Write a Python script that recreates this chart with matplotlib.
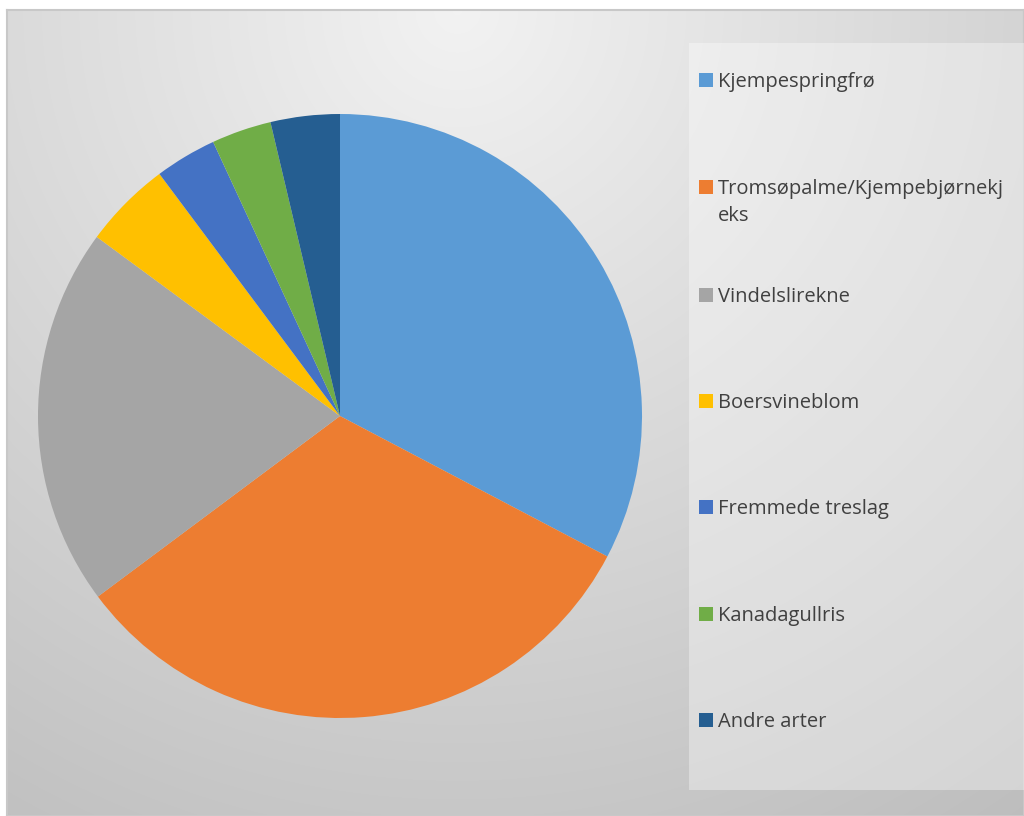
import numpy as np
import matplotlib.pyplot as plt
from matplotlib.patches import Rectangle

# andel per art (lest av diagrammet)
labels = ['Kjempespringfrø', 'Tromsøpalme/Kjempebjørnekj\neks', 'Vindelslirekne',
          'Boersvineblom', 'Fremmede treslag', 'Kanadagullris', 'Andre arter']
values = [32.7, 32.1, 20.3, 4.7, 3.3, 3.2, 3.7]
colors = ['#5B9BD5', '#ED7D31', '#A5A5A5', '#FFC000', '#4472C4', '#70AD47', '#255E91']

W, H = 1024, 816
fig = plt.figure(figsize=(W / 100, H / 100), dpi=100)

# bakgrunn med gradient
bg = fig.add_axes([7 / W, 0, 1 - 7 / W, 1 - 10 / H])
yy, xx = np.mgrid[0:806, 0:1017]
d = np.sqrt((xx - 450) ** 2 + (yy - 0) ** 2) / 1000
shade = np.clip(0.95 - 0.21 * d, 0, 1)
bg.imshow(np.dstack([shade] * 3), aspect='auto', extent=(0, 1, 0, 1), origin='upper')
bg.set_xlim(0, 1)
bg.set_ylim(0, 1)
bg.set_xticks([])
bg.set_yticks([])
for s in bg.spines.values():
    s.set_color('#c8c8c8')
    s.set_linewidth(1.5)

# legendeboks
fig.patches.append(Rectangle((689 / W, 1 - 790 / H), (W - 689) / W, (790 - 43) / H,
                             transform=fig.transFigure, facecolor='white', alpha=0.35,
                             edgecolor='none', zorder=1))

# kakediagram
cx, cy, r = 340, 416, 302
ax = fig.add_axes([(cx - r) / W, (H - cy - r) / H, 2 * r / W, 2 * r / H])
ax.pie(values, colors=colors, startangle=90, counterclock=False,
       wedgeprops=dict(linewidth=0), radius=1)
ax.set_xlim(-1, 1)
ax.set_ylim(-1, 1)
ax.set_aspect('equal')
ax.patch.set_alpha(0)

# legende
ys = [80, 187, 295, 401, 507, 614, 720]
for lab, col, y in zip(labels, colors, ys):
    fig.patches.append(Rectangle((699 / W, 1 - (y + 7) / H), 14 / W, 14 / H,
                                 transform=fig.transFigure, facecolor=col,
                                 edgecolor='none', zorder=3))
    fig.text(718 / W, 1 - (y - 8) / H, lab, fontsize=14.5, color='#404040',
             family='Open Sans', va='top', ha='left', linespacing=1.45)

fig.savefig('out.png', dpi=100)
